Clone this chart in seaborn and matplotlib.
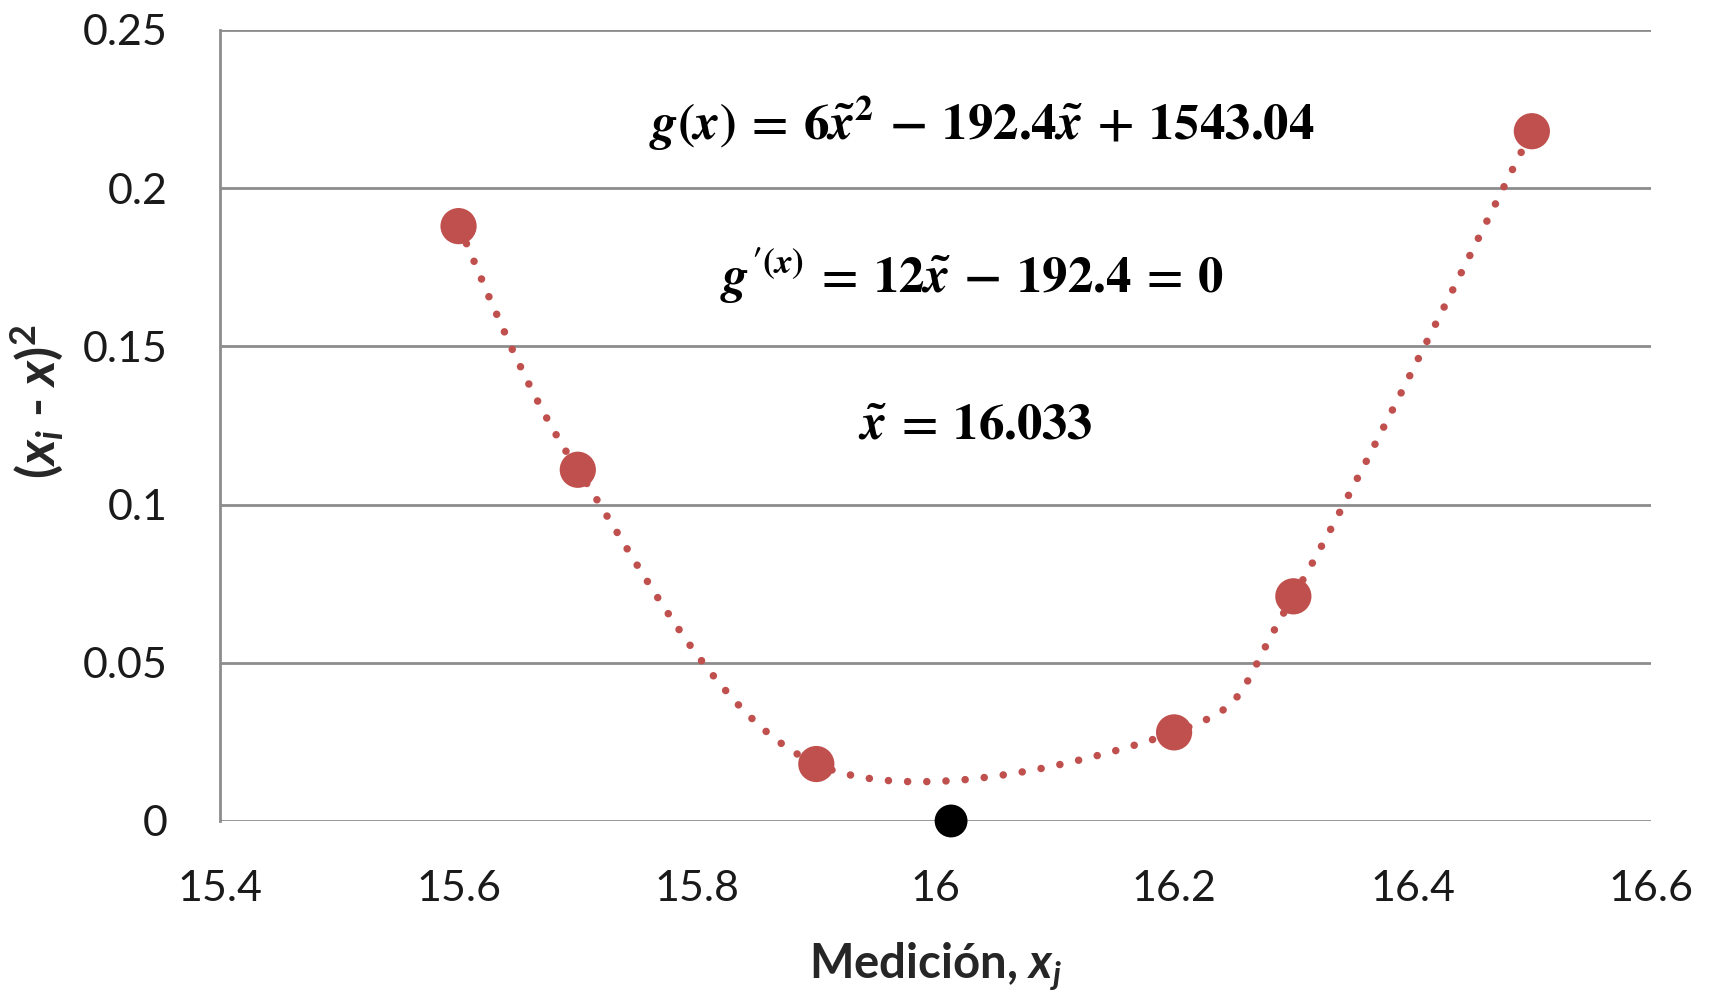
import numpy as np
import pandas as pd
import matplotlib
matplotlib.use("Agg")
import matplotlib.pyplot as plt
from matplotlib.path import Path
from matplotlib.patches import PathPatch
import seaborn as sns

# ---- data ----
mediciones = [15.6, 15.7, 15.9, 16.2, 16.3, 16.5]
desv_cuad = [0.188, 0.111, 0.018, 0.028, 0.071, 0.218]
x_min_point = [16.013]
y_min_point = [0.0]
x_ticks = [15.4, 15.6, 15.8, 16.0, 16.2, 16.4, 16.6]
x_ticklabels = ["15.4", "15.6", "15.8", "16", "16.2", "16.4", "16.6"]
y_ticks = [0.0, 0.05, 0.10, 0.15, 0.20, 0.25]
y_ticklabels = ["0", "0.05", "0.1", "0.15", "0.2", "0.25"]
eq_texts = [
    r"$g(x)\,=\,6\tilde{x}^{2}\,-\,192.4\tilde{x}\,+\,1543.04$",
    r"$g^{\prime(x)}\,=\,12\tilde{x}\,-\,192.4\,=\,0$",
    r"$\tilde{x}\,=\,16.033$",
]
x_label = "Medición, $\\mathbf{x_j}$"
y_label = "($\\mathbf{x_i}$ - $\\mathbf{x}$)$^{\\mathsf{2}}$"

RED = "#C0504D"
GRID = "#8C8C8C"

sns.set_style("white")
plt.rcParams["font.family"] = ["Lato", "DejaVu Sans"]
plt.rcParams["mathtext.fontset"] = "custom"
plt.rcParams["mathtext.rm"] = "STIXGeneral:bold"
plt.rcParams["mathtext.it"] = "STIXGeneral:italic:bold"
plt.rcParams["mathtext.sf"] = "Lato:bold"
plt.rcParams["mathtext.bf"] = "Lato:bold:italic"

df = pd.DataFrame({"x": mediciones, "y": desv_cuad})
df_min = pd.DataFrame({"x": x_min_point, "y": y_min_point})

fig = plt.figure(figsize=(17.11, 9.92), dpi=100)
ax = fig.add_axes([0.1286, 0.1724, 0.965 - 0.1286, 0.9698 - 0.1724])

# smoothed (Catmull-Rom style Bezier) connecting line through the data
pts = np.column_stack([df["x"].to_numpy(), df["y"].to_numpy()])
ext = np.vstack([pts[0], pts, pts[-1]])
verts = [tuple(pts[0])]
codes = [Path.MOVETO]
for i in range(len(pts) - 1):
    p0, p1, p2, p3 = ext[i], ext[i + 1], ext[i + 2], ext[i + 3]
    c1 = p1 + (p2 - p0) / 6.0
    c2 = p2 - (p3 - p1) / 6.0
    verts += [tuple(c1), tuple(c2), tuple(p2)]
    codes += [Path.CURVE4] * 3
patch = PathPatch(Path(verts, codes), fill=False, edgecolor=RED,
                  linewidth=5.4, linestyle=(0, (0.01, 2.55)), zorder=2)
patch.set_capstyle("round")
ax.add_patch(patch)

sns.scatterplot(data=df, x="x", y="y", ax=ax, color=RED, s=680,
                edgecolor="none", zorder=3, legend=False)
sns.scatterplot(data=df_min, x="x", y="y", ax=ax, color="black", s=560,
                edgecolor="none", zorder=4, legend=False, clip_on=False)

ax.set_xlim(15.4, 16.6)
ax.set_ylim(0, 0.25)
ax.set_xticks(x_ticks)
ax.set_xticklabels(x_ticklabels)
ax.set_yticks(y_ticks)
ax.set_yticklabels(y_ticklabels)
ax.tick_params(axis="both", length=0, labelsize=31, colors="#1a1a1a")
ax.tick_params(axis="y", pad=38)
ax.tick_params(axis="x", pad=35)

ax.grid(False)
for yv in y_ticks:
    ax.axhline(yv, color=GRID, linewidth=2.0, zorder=1)
for side in ["top", "right", "bottom"]:
    ax.spines[side].set_visible(False)
ax.spines["left"].set_color(GRID)
ax.spines["left"].set_linewidth(2.0)

ax.set_xlabel(x_label, fontsize=34, fontweight="bold", labelpad=24)
ax.set_ylabel(y_label, fontsize=37, fontweight="bold")
ax.yaxis.set_label_coords(-0.108, 0.53)

eq_pos = [(0.532, 0.882), (0.525, 0.689), (0.528, 0.5)]
for t, (px, py) in zip(eq_texts, eq_pos):
    ax.text(px, py, t, transform=ax.transAxes, ha="center", va="center",
            fontsize=36.5, color="black")

fig.savefig("out.png", dpi=100)
